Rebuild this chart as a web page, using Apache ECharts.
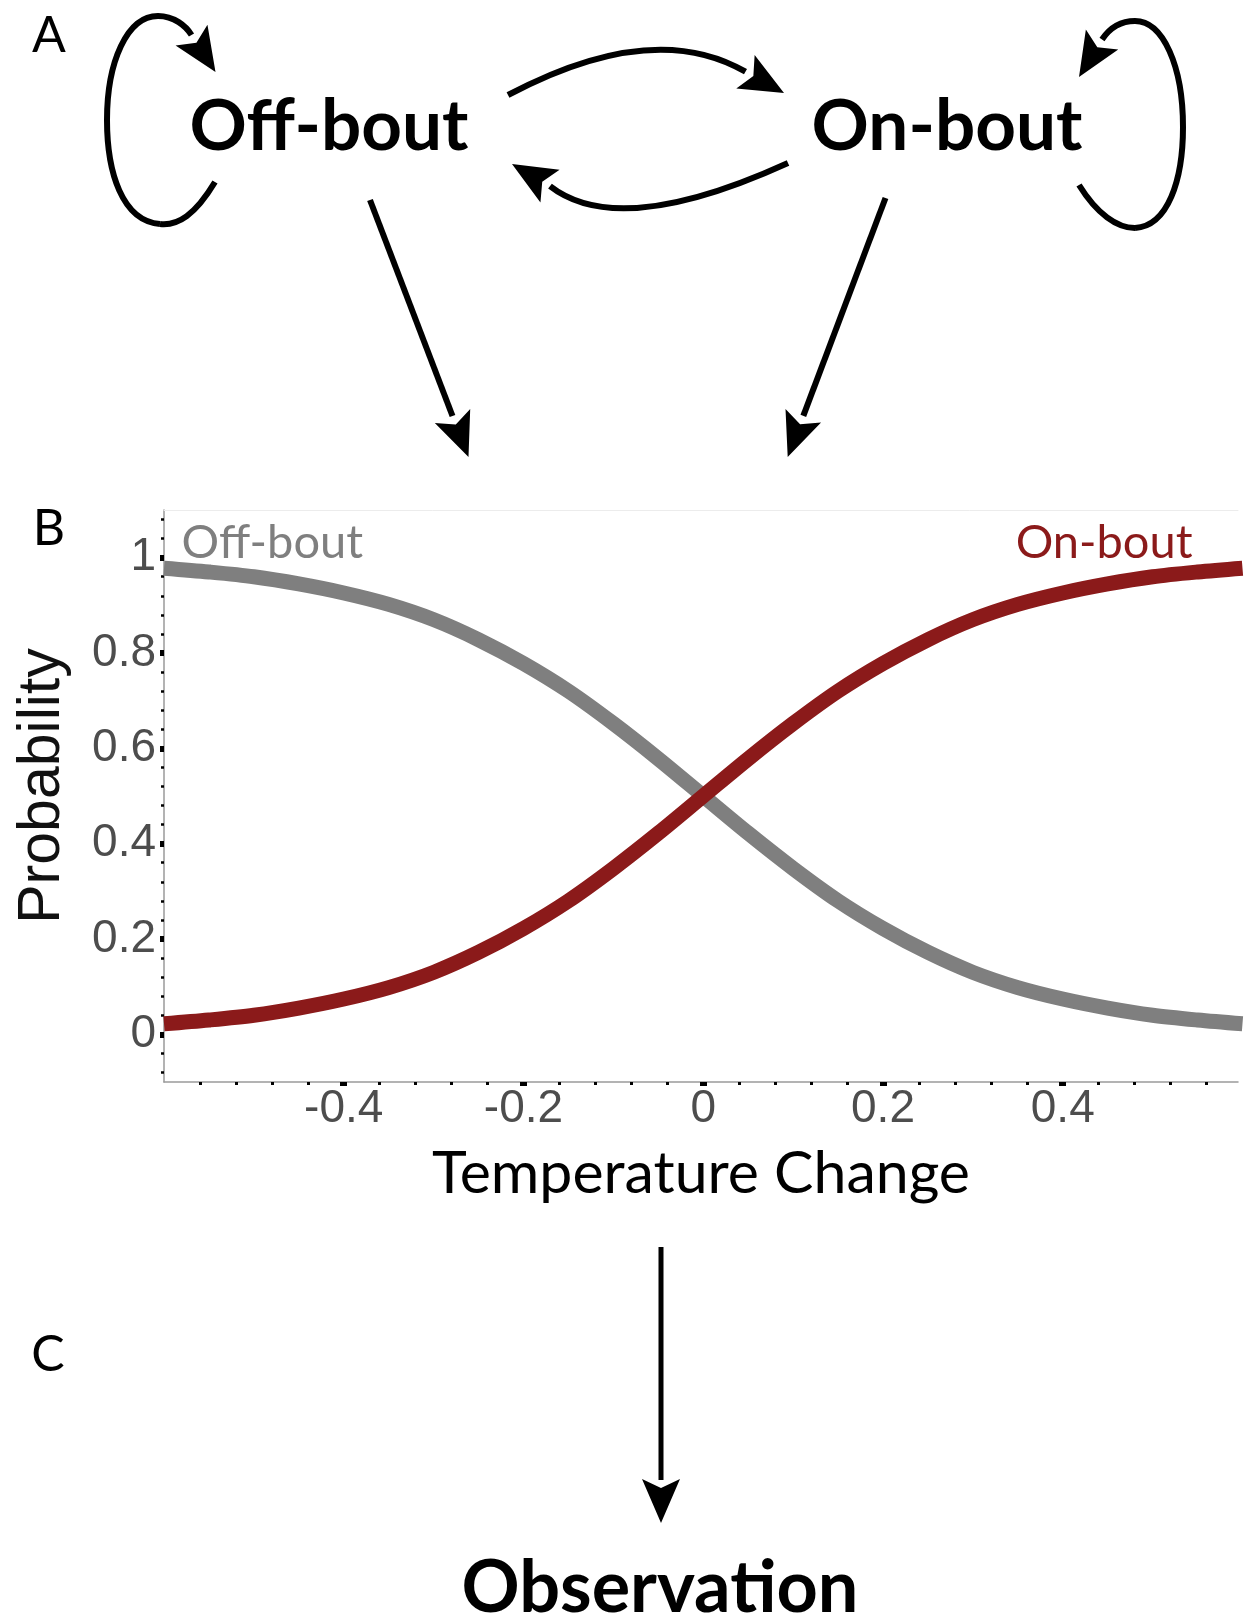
<!DOCTYPE html>
<html>
<head>
<meta charset="utf-8">
<script src="https://cdn.jsdelivr.net/npm/echarts@6/dist/echarts.min.js"></script>
<style>
html,body{margin:0;padding:0;background:#ffffff;}
#chart{width:1246px;height:1623px;}
</style>
</head>
<body>
<div id="chart"></div>
<script>
// ---- data ----
const temperatureChange = [-0.6, -0.55, -0.5, -0.45, -0.4, -0.35, -0.3, -0.25, -0.2, -0.15, -0.1, -0.05, 0, 0.05, 0.1, 0.15, 0.2, 0.25, 0.3, 0.35, 0.4, 0.45, 0.5, 0.55, 0.6];
const onBoutProb  = [0.022, 0.030, 0.040, 0.055, 0.074, 0.098, 0.130, 0.172, 0.222, 0.280, 0.348, 0.422, 0.500, 0.578, 0.652, 0.720, 0.778, 0.828, 0.870, 0.902, 0.926, 0.945, 0.960, 0.970, 0.978];
const offBoutProb = [0.978, 0.970, 0.960, 0.945, 0.926, 0.902, 0.870, 0.828, 0.778, 0.720, 0.652, 0.578, 0.500, 0.422, 0.348, 0.280, 0.222, 0.172, 0.130, 0.098, 0.074, 0.055, 0.040, 0.030, 0.022];
const xTicks = [-0.4, -0.2, 0, 0.2, 0.4];
const yTicks = [0, 0.2, 0.4, 0.6, 0.8, 1];
const seriesNames = ['Off-bout', 'On-bout'];
const xAxisTitle = 'Temperature Change';
const yAxisTitle = 'Probability';
const stateNames = ['Off-bout', 'On-bout'];
const observationName = 'Observation';
const panelLetters = ['A', 'B', 'C'];

// label anchors in data units
const offLabelAt = [-0.581, 1.031];
const onLabelAt = [0.545, 1.031];

const GRAY = '#7f7f7f';
const RED = '#8b1a1a';

function arrowHead(tip, dir, L, W, N) {
  const len = Math.hypot(dir[0], dir[1]);
  const dx = dir[0] / len, dy = dir[1] / len;
  const nx = -dy, ny = dx;
  return [
    [tip[0], tip[1]],
    [tip[0] - dx * L + nx * W, tip[1] - dy * L + ny * W],
    [tip[0] - dx * (L - N), tip[1] - dy * (L - N)],
    [tip[0] - dx * L - nx * W, tip[1] - dy * L - ny * W]
  ];
}

// each segment: [x1,y1, cp1x,cp1y, cp2x,cp2y, x2,y2] (cubic), [x1,y1,cpx,cpy,x2,y2] (quadratic) or [x1,y1,x2,y2] (line)
const arrows = [
  {segs: [[215,182, 195,215, 178,226, 160,224], [160,224, 122,221, 107,172, 107,120], [107,120, 107,62, 127,16, 158,16], [158,16, 174,16, 186,26, 191.5,35]], tip: [215.5, 72], dir: [24.7, 38]},
  {segs: [[1079,185, 1097,214, 1117,228, 1135,228], [1135,228, 1168,226, 1183,180, 1183,127], [1183,127, 1183,66, 1163,21, 1135,21], [1135,21, 1120,21, 1109,29, 1102,39.5]], tip: [1079, 77], dir: [-24, 39]},
  {segs: [[508,95, 653,18, 745.5,71.7]], tip: [784, 93], dir: [39, 21.5]},
  {segs: [[788,163, 619,240, 550,186.2]], tip: [512, 164], dir: [-38.6, -22.5]},
  {segs: [[370,200, 452.5,416]], tip: [468.5, 457], dir: [15.8, 40.5]},
  {segs: [[885.5,198, 803.3,415.9]], tip: [787.7, 457], dir: [-15.9, 42]},
  {segs: [[661,1247, 661,1480]], tip: [661, 1523], dir: [0, 1], lw: 5}
];

const graphics = [];
arrows.forEach(a => {
  const style = {stroke: '#000', lineWidth: a.lw || 6, fill: null, lineCap: 'butt'};
  a.segs.forEach(s => {
    if (s.length === 8) {
      graphics.push({type: 'bezierCurve', shape: {x1: s[0], y1: s[1], cpx1: s[2], cpy1: s[3], cpx2: s[4], cpy2: s[5], x2: s[6], y2: s[7]}, style: style, z: 10});
    } else if (s.length === 6) {
      graphics.push({type: 'bezierCurve', shape: {x1: s[0], y1: s[1], cpx1: s[2], cpy1: s[3], x2: s[4], y2: s[5]}, style: style, z: 10});
    } else {
      graphics.push({type: 'line', shape: {x1: s[0], y1: s[1], x2: s[2], y2: s[3]}, style: style, z: 10});
    }
  });
  graphics.push({type: 'polygon', shape: {points: arrowHead(a.tip, a.dir, 44, 19, 9)}, style: {fill: '#000'}, z: 11});
});
function txt(t, x, y, size, weight, family) {
  return {type: 'text', x: x, y: y, z: 12, style: {text: t, fill: '#000', fontSize: size, fontWeight: weight, fontFamily: family, align: 'center', verticalAlign: 'middle'}};
}
graphics.push(txt(panelLetters[0], 49, 52 - 16, 50, 'normal', 'Lato'));
graphics.push(txt(panelLetters[1], 49, 545 - 16, 50, 'normal', 'Lato'));
graphics.push(txt(panelLetters[2], 48, 1371 - 16, 50, 'normal', 'Lato'));
graphics.push(txt(stateNames[0], 329, 150 - 22.9, 71, 'bold', 'Lato'));
graphics.push(txt(stateNames[1], 947, 150 - 22.9, 71, 'bold', 'Lato'));
graphics.push(txt(observationName, 660, 1612 - 23.2, 72, 'bold', 'Lato'));

const chart = echarts.init(document.getElementById('chart'), null, {renderer: 'canvas', width: 1246, height: 1623});
const option = {
  backgroundColor: '#ffffff',
  animation: false,
  grid: {left: 164, top: 510, width: 1074, height: 572, containLabel: false},
  xAxis: [
    {
      type: 'value', min: -0.6, max: 0.595, interval: 0.2, position: 'bottom',
      axisLine: {show: true, onZero: false, lineStyle: {color: '#9a9a9a', width: 1.5}},
      axisTick: {show: true, customValues: xTicks, length: 4, lineStyle: {color: '#000', width: 7}},
      minorTick: {show: true, splitNumber: 5, length: 3, lineStyle: {color: '#000', width: 3}},
      splitLine: {show: false},
      axisLabel: {customValues: xTicks, color: '#4d4d4d', fontSize: 46, fontFamily: 'Liberation Sans, Arial, sans-serif', margin: 4},
      name: xAxisTitle, nameLocation: 'middle', nameGap: 62,
      nameTextStyle: {fontFamily: 'Lato', fontSize: 59, color: '#000'}
    },
    {
      type: 'value', min: -0.6, max: 0.595, position: 'top',
      axisLine: {show: true, onZero: false, lineStyle: {color: '#ececec', width: 1}},
      axisTick: {show: false}, axisLabel: {show: false}, splitLine: {show: false}
    }
  ],
  yAxis: {
    type: 'value', min: -0.1, max: 1.1, splitNumber: 6,
    axisLine: {show: true, onZero: false, lineStyle: {color: '#9a9a9a', width: 1.5}},
    axisTick: {show: true, customValues: yTicks, length: 4, lineStyle: {color: '#000', width: 6}},
    minorTick: {show: true, splitNumber: 5, length: 3, lineStyle: {color: '#000', width: 2.5}},
    splitLine: {show: false},
    axisLabel: {customValues: yTicks, color: '#4d4d4d', fontSize: 46, fontFamily: 'Liberation Sans, Arial, sans-serif', margin: 8},
    name: yAxisTitle, nameLocation: 'middle', nameGap: 92,
    nameTextStyle: {fontFamily: 'Liberation Sans, Arial, sans-serif', fontSize: 59, color: '#111', padding: [0, 0, 0, 20]}
  },
  series: [
    {
      type: 'line', name: seriesNames[0], xAxisIndex: 0,
      data: temperatureChange.map((x, i) => [x, offBoutProb[i]]),
      smooth: 0.3, showSymbol: false, clip: true, z: 2,
      lineStyle: {color: GRAY, width: 15}, itemStyle: {color: GRAY},
      markPoint: {
        symbol: 'circle', symbolSize: 1, itemStyle: {color: 'rgba(0,0,0,0)'},
        label: {show: true, position: 'right', distance: 0, formatter: seriesNames[0], color: GRAY, fontFamily: 'Lato', fontSize: 47},
        data: [{coord: offLabelAt}]
      }
    },
    {
      type: 'line', name: seriesNames[1], xAxisIndex: 0,
      data: temperatureChange.map((x, i) => [x, onBoutProb[i]]),
      smooth: 0.3, showSymbol: false, clip: true, z: 3,
      lineStyle: {color: RED, width: 15}, itemStyle: {color: RED},
      markPoint: {
        symbol: 'circle', symbolSize: 1, itemStyle: {color: 'rgba(0,0,0,0)'},
        label: {show: true, position: 'left', distance: 0, formatter: seriesNames[1], color: RED, fontFamily: 'Lato', fontSize: 47},
        data: [{coord: onLabelAt}]
      }
    }
  ],
  graphic: graphics
};
chart.setOption(option);
</script>
</body>
</html>
